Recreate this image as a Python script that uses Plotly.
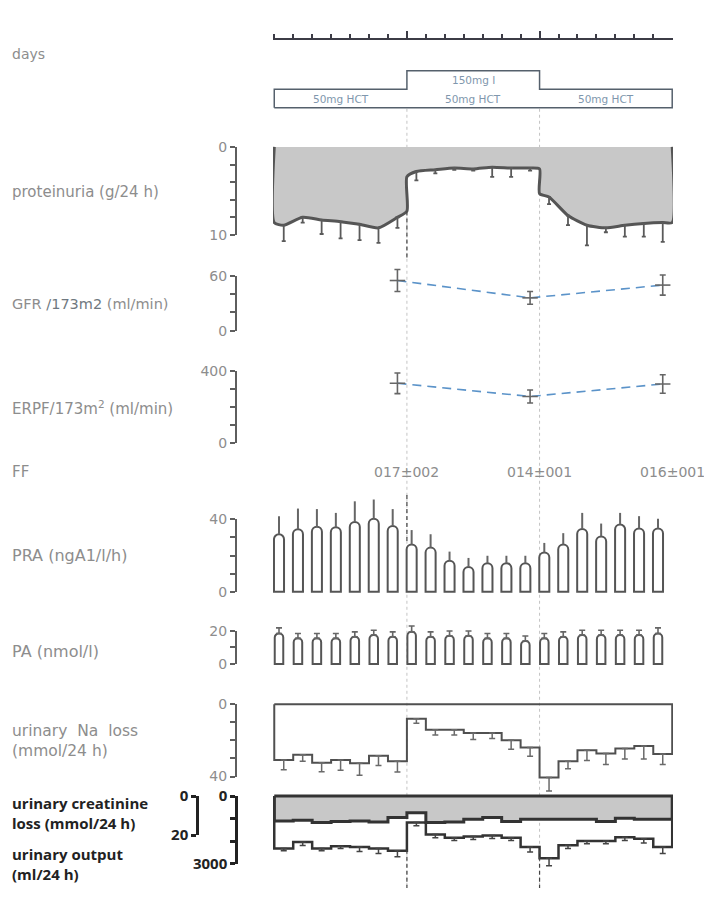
import numpy as np
import plotly.graph_objects as go

W, H = 704, 897

# ------------------------------------------------------------------ design
days = np.arange(21)                          # study days 0..20
period_edges = [-0.25, 6.75, 13.75, 20.75]    # boundaries of the three periods
iodine_on = [0, 1, 0]                         # iodine added in the middle period
hct_text = "50mg HCT"
iodine_text = "150mg I"

# ------------------------------------------------------------ measurements
prot_mean = [8.9, 8.0, 8.3, 8.5, 8.8, 9.2, 8.0, 2.8, 2.6, 2.4, 2.5, 2.3, 2.4, 2.4,
             5.7, 7.8, 8.9, 9.2, 8.9, 8.7, 8.6]
prot_sd = [1.8, 0.6, 1.6, 1.9, 1.8, 1.7, 1.2, 1.0, 0.4, 0.2, 0.2, 1.1, 1.0, 0.3,
           0.8, 1.1, 2.3, 0.5, 1.3, 1.5, 2.2]
prot_edge_before = [None, 7.3, 2.5, 8.6]      # level just before each period edge
prot_edge_after = [8.6, 3.4, 5.3, None]       # level just after each period edge

clear_day = [6, 13, 20]
gfr_mean = [55, 36, 50]
gfr_sd = [12, 7, 11]
erpf_mean = [331, 258, 327]
erpf_sd = [57, 36, 51]
ff_text = ["017±002", "014±001", "016±001"]

pra_mean = [31.8, 34.5, 35.9, 35.6, 38.6, 40.4, 36.3, 26.1, 24.4, 17.2, 13.7, 15.8,
            15.8, 15.8, 21.7, 26.1, 34.7, 30.6, 37.2, 35.0, 35.0]
pra_sd = [10.0, 11.5, 9.8, 8.0, 11.4, 10.6, 9.4, 8.0, 7.4, 5.0, 5.0, 4.1, 4.1, 4.1,
          5.3, 6.3, 8.9, 7.1, 6.4, 6.8, 5.4]

pa_mean = [18.4, 15.5, 15.5, 15.5, 16.5, 17.5, 16.5, 19.4, 16.5, 17.0, 17.0, 15.5,
           15.5, 13.9, 15.5, 16.5, 17.5, 17.5, 17.5, 17.5, 18.4]
pa_sd = [3.4, 2.9, 2.9, 2.9, 2.9, 2.9, 2.9, 3.5, 2.9, 2.9, 2.9, 2.9, 2.9, 3.0, 2.9,
         2.9, 2.9, 2.9, 2.9, 2.9, 3.4]

na_mean = [30.8, 27.9, 32.4, 30.8, 32.6, 28.5, 31.5, 8.1, 14.1, 14.1, 15.9, 15.9,
           20.0, 24.0, 40.5, 31.5, 25.4, 27.2, 24.5, 23.1, 27.6]
na_sd = [5.4, 3.6, 5.0, 5.7, 6.7, 5.4, 6.0, 2.4, 3.0, 3.0, 3.6, 3.0, 4.9, 4.8, 7.5,
         4.2, 5.8, 6.2, 5.8, 7.2, 5.8]

creat_mean = [12.7, 12.3, 13.5, 13.0, 12.7, 13.2, 11.0, 8.5, 13.5, 13.2, 11.8, 11.0,
              13.0, 11.8, 11.8, 11.8, 11.8, 13.0, 11.3, 11.8, 11.8]
out_mean = [2335, 2043, 2335, 2232, 2261, 2335, 2435, 1174, 1710, 1855, 1797, 1754,
            1855, 2261, 2768, 2188, 2000, 2000, 1826, 1898, 2261]
out_sd = [100, 150, 100, 100, 200, 220, 260, 145, 145, 120, 130, 130, 120, 220, 330,
          145, 120, 120, 145, 190, 290]

# ------------------------------------------------------------------ styling
GREY_TXT = "#8d8d8d"
BRACKET = "#5e5e5e"
DARK = "#4a4a4a"
BLACK = "#222222"
FILL = "#c8c8c8"
BLUE = "#5b93c9"
FONT = "DejaVu Sans, Liberation Sans, sans-serif"
BOLD_FONT = "Open Sans, DejaVu Sans, sans-serif"


def yfrac(px):
    return 1 - px / H


# shared day axis: pixel 279 is day 0, one day = 18.95 px
X0_PX, X1_PX, DAY0_PX, DAY_PX = 273, 673, 279, 18.95
x_range = [(X0_PX - DAY0_PX) / DAY_PX, (X1_PX - DAY0_PX) / DAY_PX]

fig = go.Figure()
axes = {}


def lin(top, bottom, v_top, v_bot, p):
    return v_top + (p - top) * (v_bot - v_top) / (bottom - top)


def panel(n, top, bottom, v_top, v_bot, step, bracket_x,
          pad=30, color=BRACKET, tick_font=None, lw=2):
    """Invisible data axis y{n} (padded so whiskers are not clipped) plus a
    bracket-shaped scale axis y{n+1}: labelled end ticks, unlabelled inner ticks."""
    lo = min(bottom + pad, H)
    hi = max(top - pad, 0)
    axes[f"yaxis{n}"] = dict(
        domain=[yfrac(lo), yfrac(hi)],
        range=[lin(top, bottom, v_top, v_bot, lo), lin(top, bottom, v_top, v_bot, hi)],
        visible=False, anchor="x", fixedrange=True)
    vmin, vmax = min(v_top, v_bot), max(v_top, v_bot)
    inner = list(np.arange(vmin + step, vmax - step / 2, step))
    axes[f"yaxis{n + 1}"] = dict(
        domain=[yfrac(bottom), yfrac(top)], range=[v_bot, v_top],
        anchor="free", position=bracket_x / W, side="left",
        showline=True, linecolor=color, linewidth=lw,
        ticks="outside", ticklen=5, tickwidth=lw, tickcolor=color,
        tickmode="array", tickvals=[vmin, vmax],
        ticktext=[f"{vmin:g}", f"{vmax:g}"],
        minor=dict(tickmode="array", tickvals=inner, ticks="outside",
                   ticklen=5, tickwidth=lw, tickcolor=color, showgrid=False),
        tickfont=tick_font or dict(family=FONT, size=14, color=GREY_TXT),
        showgrid=False, zeroline=False, fixedrange=True)
    fig.add_trace(go.Scatter(x=[None], y=[None], yaxis=f"y{n + 1}",
                             showlegend=False, hoverinfo="skip"))
    return f"y{n}"


def whiskers(x, y, sd, yaxis, color=DARK, cap=2, thick=1.5):
    fig.add_trace(go.Scatter(
        x=x, y=y, yaxis=yaxis, mode="markers",
        marker=dict(size=2, opacity=0),
        error_y=dict(type="data", symmetric=False, array=sd,
                     arrayminus=[0] * len(sd), color=color,
                     thickness=thick, width=cap),
        showlegend=False, hoverinfo="skip"))


centers = [k + 0.25 for k in days]          # middle of each day interval
step_starts = [k - 0.25 for k in days]      # left edge of each day interval

# ---------------------------------------------------------------- days row
axes["yaxis"] = dict(domain=[yfrac(28), yfrac(18)], range=[0, 1], visible=False,
                     fixedrange=True)
fig.add_trace(go.Scatter(x=[None], y=[None], yaxis="y", showlegend=False,
                         hoverinfo="skip"))

# ---------------------------------------------------------- treatment box
axes["yaxis2"] = dict(domain=[yfrac(105), yfrac(55)],
                      range=[lin(99, 61, 0, 2, 105), lin(99, 61, 0, 2, 55)],
                      visible=False, anchor="x", fixedrange=True)
box_x, box_y = [period_edges[0]], [0]
for p, on in enumerate(iodine_on):
    box_x += [period_edges[p], period_edges[p + 1]]
    box_y += [1 + on, 1 + on]
box_x += [period_edges[-1], period_edges[0]]
box_y += [0, 0]
fig.add_trace(go.Scatter(x=box_x, y=box_y, yaxis="y2", mode="lines",
                         line=dict(color="#55606c", width=1.5),
                         showlegend=False, hoverinfo="skip"))

# ------------------------------------------------------------- proteinuria
yp = panel(3, 139, 229, 0, 10, 2, 236)
px_, py_ = [period_edges[0]], [0.0]
for p in range(3):
    px_.append(period_edges[p]); py_.append(prot_edge_after[p])
    for k in days:
        if period_edges[p] < centers[k] < period_edges[p + 1]:
            px_.append(centers[k]); py_.append(prot_mean[k])
    px_.append(period_edges[p + 1]); py_.append(prot_edge_before[p + 1])
px_.append(period_edges[-1]); py_.append(0.0)
fig.add_trace(go.Scatter(x=px_, y=py_, yaxis=yp, mode="lines", fill="toself",
                         fillcolor=FILL,
                         line=dict(color="#555555", width=3, shape="spline",
                                   smoothing=0.6),
                         showlegend=False, hoverinfo="skip"))
whiskers(centers, prot_mean, prot_sd, yp, color="#5a5a5a", cap=2, thick=1.8)

# ------------------------------------------------------------- GFR / ERPF
clear_x = [centers[k] for k in clear_day]
yg = panel(5, 271, 327, 60, 0, 20, 236)
ye = panel(7, 368, 442, 400, 0, 100, 236)
for yax, mean, sd in ((yg, gfr_mean, gfr_sd), (ye, erpf_mean, erpf_sd)):
    fig.add_trace(go.Scatter(
        x=clear_x, y=mean, yaxis=yax, mode="lines+markers",
        line=dict(color=BLUE, width=1.6, dash="9px,6px"),
        marker=dict(symbol="line-ew", size=11, line=dict(color="#666666", width=1.6)),
        error_y=dict(type="data", array=sd, color="#666666", thickness=1.6, width=3),
        showlegend=False, hoverinfo="skip"))

# ---------------------------------------------------------------- PRA / PA
ypr = panel(9, 520, 594, 40, 0, 10, 236)
fig.add_trace(go.Bar(
    x=days, y=pra_mean, yaxis=ypr, width=0.53,
    marker=dict(color="white", line=dict(color="#555555", width=2), cornerradius=5),
    error_y=dict(type="data", symmetric=False, array=pra_sd,
                 arrayminus=[0] * len(pra_sd), color="#666666", thickness=2, width=0),
    showlegend=False, hoverinfo="skip"))

ypa = panel(11, 634, 668, 20, 0, 10, 236)
fig.add_trace(go.Bar(
    x=days, y=pa_mean, yaxis=ypa, width=0.45,
    marker=dict(color="white", line=dict(color="#555555", width=2), cornerradius=4),
    error_y=dict(type="data", symmetric=False, array=pa_sd,
                 arrayminus=[0] * len(pa_sd), color="#666666", thickness=1.6, width=3),
    showlegend=False, hoverinfo="skip"))

# ------------------------------------------------------------ sodium loss
yn = panel(13, 709, 783, 0, 40, 10, 236)
na_x = [period_edges[0]] + step_starts + [period_edges[-1], period_edges[-1], period_edges[0]]
na_y = [0] + na_mean + [na_mean[-1], 0, 0]
fig.add_trace(go.Scatter(x=na_x, y=na_y, yaxis=yn, mode="lines",
                         line=dict(color="#505050", width=2, shape="hv"),
                         showlegend=False, hoverinfo="skip"))
whiskers(centers, na_mean, na_sd, yn, color="#6a6a6a", cap=3, thick=1.5)

# ------------------------------------------- creatinine loss / urine output
bold_tick = dict(family=BOLD_FONT, size=15, color=BLACK, weight="bold")
yc = panel(15, 803, 843, 0, 20, 20, 197, color=BLACK, tick_font=bold_tick, lw=2.5)
yo = panel(17, 803, 872, 0, 3000, 1000, 236, color=BLACK, tick_font=bold_tick, lw=2.5)
out_x = [period_edges[0]] + step_starts + [period_edges[-1], period_edges[-1]]
fig.add_trace(go.Scatter(x=out_x, y=[0] + out_mean + [out_mean[-1], 0], yaxis=yo,
                         mode="lines", line=dict(color="#333333", width=2.5, shape="hv"),
                         showlegend=False, hoverinfo="skip"))
whiskers(centers, out_mean, out_sd, yo, color="#444444", cap=3, thick=1.5)
cr_x = [period_edges[0]] + step_starts + [period_edges[-1], period_edges[-1], period_edges[0]]
cr_y = [0] + creat_mean + [creat_mean[-1], 0, 0]
fig.add_trace(go.Scatter(x=cr_x, y=cr_y, yaxis=yc, mode="lines", fill="toself",
                         fillcolor=FILL, line=dict(color="#333333", width=3, shape="hv"),
                         showlegend=False, hoverinfo="skip"))

# ------------------------------------------------------------ annotations
def label(text, py, size=15, color=GREY_TXT, family=FONT, bold=False):
    fig.add_annotation(x=10 / W, y=yfrac(py), xref="paper", yref="paper",
                       xanchor="left", yanchor="middle", align="left",
                       showarrow=False, text=text,
                       font=dict(family=family, size=size, color=color,
                                 weight="bold" if bold else "normal"))

label("days", 44, size=14)
label("proteinuria (g/24 h)", 185)
label("GFR <span style='color:#6f7880'>/173m2</span> (ml/min)", 300, size=14.5)
label("ERPF/173m<sup>2</sup> (ml/min)", 406)
label("FF", 472)
label("PRA (ngA1/l/h)", 557, size=16)
label("PA (nmol/l)", 655, size=16)
label("urinary  Na  loss<br>(mmol/24 h)", 747, size=15.5)
label("urinary creatinine<br>loss (mmol/24 h)", 820, color=BLACK, family=BOLD_FONT,
      bold=True)
label("urinary output<br>(ml/24 h)", 872, color=BLACK, family=BOLD_FONT, bold=True)

for p in range(3):
    mid = (period_edges[p] + period_edges[p + 1]) / 2
    fig.add_annotation(x=mid, y=0.5, xref="x", yref="y2", text=hct_text,
                       showarrow=False, font=dict(family=FONT, size=10.5, color="#7f97ad"))
    if iodine_on[p]:
        fig.add_annotation(x=mid, y=1.5, xref="x", yref="y2", text=iodine_text,
                           showarrow=False, font=dict(family=FONT, size=10.5, color="#7f97ad"))

for e, t in zip(period_edges[1:], ff_text):
    fig.add_annotation(x=e, y=yfrac(472), xref="x", yref="paper", text=t,
                       showarrow=False, xanchor="center",
                       font=dict(family=FONT, size=14, color=GREY_TXT))

# ------------------------------------------------ period boundary markers
shapes = []
for e in period_edges[1:3]:
    shapes.append(dict(type="line", xref="x", yref="paper", x0=e, x1=e,
                       y0=yfrac(100), y1=0, layer="below",
                       line=dict(color="#c4c4c4", width=1, dash="3px,3px")))
for e, top, bot in ((period_edges[1], 205, 252), (period_edges[1], 495, 545),
                    (period_edges[1], 858, 897), (period_edges[2], 858, 897)):
    shapes.append(dict(type="line", xref="x", yref="paper", x0=e, x1=e,
                       y0=yfrac(top), y1=yfrac(bot), layer="above",
                       line=dict(color="#444444", width=1.2, dash="4px,3px")))

fig.update_layout(
    width=W, height=H, margin=dict(l=0, r=0, t=0, b=0),
    paper_bgcolor="white", plot_bgcolor="rgba(0,0,0,0)",
    showlegend=False, shapes=shapes,
    xaxis=dict(domain=[X0_PX / W, X1_PX / W], range=x_range, anchor="y",
               side="bottom", showline=True, linecolor="#3c3c46", linewidth=2,
               ticks="inside", tickmode="array", tickvals=period_edges[1:3],
               ticklen=7, tickwidth=1.5, tickcolor="#3c3c46",
               minor=dict(tickmode="array", tickvals=step_starts + [period_edges[-1]],
                          ticks="inside", ticklen=4, tickwidth=1.5, tickcolor="#3c3c46"),
               showticklabels=False, showgrid=False, zeroline=False, fixedrange=True),
    **axes,
)

fig.write_html("out.html")
